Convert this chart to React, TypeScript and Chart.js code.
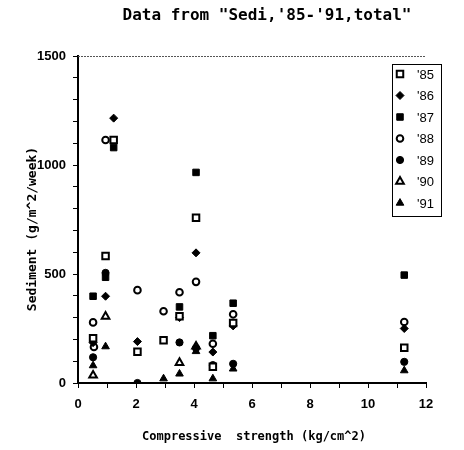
import React, { useEffect, useRef } from 'react';
import { Chart, registerables } from 'chart.js';

Chart.register(...registerables);

const chartTitle = 'Data from "Sedi,\'85-\'91,total"';
const xTitle = 'Compressive  strength (kg/cm^2)';
const yTitle = 'Sediment (g/m^2/week)';

const seriesNames = ["'85", "'86", "'87", "'88", "'89", "'90", "'91"];

const x85 = [0.52, 0.95, 1.23, 2.05, 2.95, 3.5, 4.07, 4.65, 5.35, 11.25];
const y85 = [205, 583, 1115, 143, 196, 306, 758, 75, 275, 162];
const x86 = [0.52, 0.95, 1.23, 2.05, 3.5, 4.07, 4.65, 5.35, 11.25];
const y86 = [185, 398, 1215, 190, 300, 597, 142, 262, 250];
const x87 = [0.52, 0.95, 1.23, 3.5, 4.07, 4.65, 5.35, 11.25];
const y87 = [398, 485, 1080, 349, 966, 217, 366, 495];
const x88 = [0.52, 0.55, 0.95, 2.05, 2.95, 3.5, 4.07, 4.65, 5.35, 11.25];
const y88 = [278, 165, 1115, 426, 329, 416, 464, 180, 315, 280];
const x89 = [0.52, 0.95, 2.05, 3.5, 4.07, 4.65, 5.35, 11.25];
const y89 = [118, 505, 0, 186, 160, 82, 88, 97];
const x90 = [0.52, 0.95, 3.5, 4.07];
const y90 = [35, 305, 93, 168];
const x91 = [0.52, 0.95, 2.95, 3.5, 4.07, 4.65, 5.35, 11.25];
const y91 = [80, 167, 20, 42, 145, 20, 65, 57];

const xTicksMax = 12;
const yTicksMax = 1500;

const toPts = (xs: number[], ys: number[]) => xs.map((x, i) => ({ x, y: ys[i] }));

const styles = [
  { pointStyle: 'rect', radius: 4.6, fill: '#ffffff', border: 2 },
  { pointStyle: 'rectRot', radius: 4, fill: '#000000', border: 1 },
  { pointStyle: 'rect', radius: 4.6, fill: '#000000', border: 1 },
  { pointStyle: 'circle', radius: 3.3, fill: '#ffffff', border: 2 },
  { pointStyle: 'circle', radius: 3.6, fill: '#000000', border: 1 },
  { pointStyle: 'triangle', radius: 4.4, fill: '#ffffff', border: 2 },
  { pointStyle: 'triangle', radius: 4.4, fill: '#000000', border: 1 },
];

const allX = [x85, x86, x87, x88, x89, x90, x91];
const allY = [y85, y86, y87, y88, y89, y90, y91];

export default function App() {
  const ref = useRef<HTMLCanvasElement | null>(null);

  useEffect(() => {
    document.body.style.margin = '0';
    const canvas = ref.current;
    if (!canvas) return;

    const decor = {
      id: 'decor',
      afterDraw(chart: any) {
        const ctx = chart.ctx as CanvasRenderingContext2D;
        const a = chart.chartArea;
        ctx.save();
        // top border
        ctx.strokeStyle = '#555';
        ctx.lineWidth = 1;
        ctx.setLineDash([2, 1]);
        ctx.beginPath();
        ctx.moveTo(a.left, a.top + 0.5);
        ctx.lineTo(a.right, a.top + 0.5);
        ctx.stroke();
        ctx.setLineDash([]);

        // title
        ctx.fillStyle = '#000';
        ctx.textAlign = 'center';
        ctx.textBaseline = 'middle';
        ctx.font = 'bold 16px "DejaVu Sans Mono"';
        ctx.fillText(chartTitle, 267, 16);

        // x title
        ctx.font = 'bold 12px "DejaVu Sans Mono"';
        ctx.fillText(xTitle, 254, 437);

        // y title
        ctx.save();
        ctx.font = 'bold 13px "DejaVu Sans Mono"';
        ctx.translate(33, 229);
        ctx.rotate(-Math.PI / 2);
        ctx.fillText(yTitle, 0, 0);
        ctx.restore();

        // legend
        const bx = 392, by = 64, bw = 49, bh = 152;
        ctx.strokeStyle = '#000';
        ctx.lineWidth = 1;
        ctx.strokeRect(bx + 0.5, by + 0.5, bw, bh);
        ctx.font = '13px "Liberation Sans"';
        ctx.textAlign = 'left';
        chart.data.datasets.forEach((ds: any, i: number) => {
          const cy = 74 + i * 21.5;
          const st = styles[i];
          const radius = st.radius;
          ctx.save();
          ctx.fillStyle = st.fill;
          ctx.strokeStyle = '#000';
          ctx.lineWidth = st.border;
          ctx.beginPath();
          const cx = 400;
          if (st.pointStyle === 'circle') {
            ctx.arc(cx, cy, radius, 0, Math.PI * 2);
          } else if (st.pointStyle === 'rect') {
            const s = Math.SQRT1_2 * radius;
            ctx.rect(cx - s, cy - s, 2 * s, 2 * s);
          } else if (st.pointStyle === 'rectRot') {
            ctx.moveTo(cx - radius, cy);
            ctx.lineTo(cx, cy - radius);
            ctx.lineTo(cx + radius, cy);
            ctx.lineTo(cx, cy + radius);
            ctx.closePath();
          } else {
            const h = radius;
            ctx.moveTo(cx, cy - h);
            ctx.lineTo(cx + h * 0.87, cy + h * 0.5);
            ctx.lineTo(cx - h * 0.87, cy + h * 0.5);
            ctx.closePath();
          }
          ctx.fill();
          ctx.stroke();
          ctx.restore();
          ctx.fillStyle = '#000';
          ctx.fillText(ds.label, 417, cy + 1);
        });
        ctx.restore();
      },
    };

    const chart = new Chart(canvas, {
      type: 'scatter',
      data: {
        datasets: seriesNames.map((name, i) => ({
          label: name,
          data: toPts(allX[i], allY[i]),
          pointStyle: styles[i].pointStyle as any,
          pointRadius: styles[i].radius,
          pointBackgroundColor: styles[i].fill,
          pointBorderColor: '#000',
          pointBorderWidth: styles[i].border,
          showLine: false,
        })),
      },
      options: {
        animation: false,
        responsive: false,
        maintainAspectRatio: false,
        layout: { padding: { top: 56, right: 38, left: 0, bottom: 0 } },
        plugins: {
          legend: { display: false },
          title: { display: false },
          tooltip: { enabled: false },
        },
        scales: {
          x: {
            type: 'linear',
            min: 0,
            max: xTicksMax,
            afterFit: (s: any) => { s.height = 67; },
            grid: {
              drawOnChartArea: false,
              drawTicks: true,
              tickLength: 5,
              tickColor: '#000',
              tickWidth: 1,
            },
            border: { display: true, color: '#000', width: 2 },
            ticks: {
              stepSize: 1,
              autoSkip: false,
              maxRotation: 0,
              padding: 9,
              color: '#000',
              font: { family: '"Liberation Sans"', size: 13, weight: 'bold' },
              callback: (v: any) => (Number(v) % 2 === 0 ? String(v) : ''),
            },
          },
          y: {
            type: 'linear',
            min: 0,
            max: yTicksMax,
            afterFit: (s: any) => { s.width = 78; },
            grid: {
              drawOnChartArea: false,
              drawTicks: true,
              tickLength: 5,
              tickColor: '#000',
              tickWidth: 1,
            },
            border: { display: true, color: '#000', width: 2 },
            ticks: {
              stepSize: 100,
              autoSkip: false,
              padding: 7,
              color: '#000',
              font: { family: '"Liberation Sans"', size: 13, weight: 'bold' },
              callback: (v: any) => (Number(v) % 500 === 0 ? String(v) : ''),
            },
          },
        },
      },
      plugins: [decor],
    });

    return () => chart.destroy();
  }, []);

  return (
    <div style={{ width: 464, height: 450 }}>
      <canvas ref={ref} width={464} height={450} style={{ display: 'block' }} />
    </div>
  );
}
